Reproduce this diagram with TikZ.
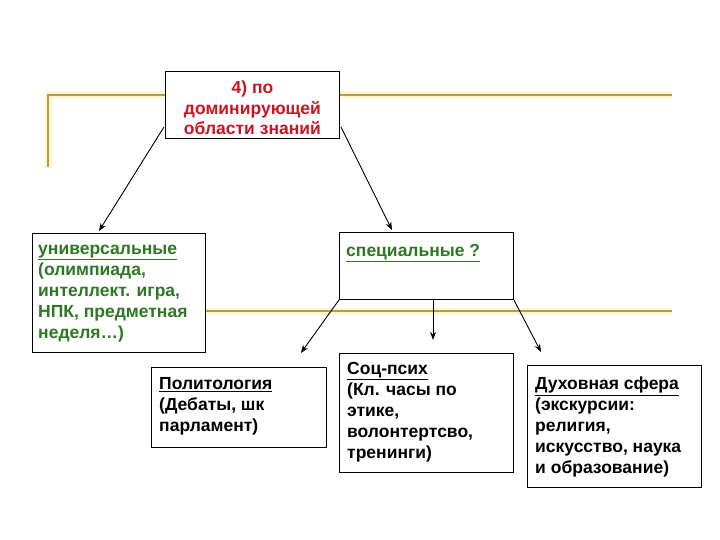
\documentclass[tikz,border=0pt]{standalone}
\usepackage{fontspec}
\setmainfont{Liberation Sans}
\usetikzlibrary{arrows.meta,calc}
\definecolor{gold}{RGB}{178,156,78}
\definecolor{glow}{RGB}{255,246,205}
\definecolor{redtxt}{RGB}{205,20,35}
\definecolor{greentxt}{RGB}{45,120,35}
\tikzset{
  box/.style={draw=black, line width=0.9pt, fill=white, rectangle, anchor=north west, inner sep=0pt},
  txt/.style={anchor=north west, align=left, inner sep=0pt, font=\fontsize{17.5}{21}\selectfont\bfseries},
  glowline/.style={glow, line width=7pt},
  goldline/.style={gold, line width=2.2pt},
  arr/.style={-{Stealth[length=8pt,width=6pt]}, line width=0.9pt, black}
}
\begin{document}
\begin{tikzpicture}[x=1pt,y=-1pt]
\useasboundingbox (0,0) rectangle (720,540);
% gold lines
\draw[glowline] (48,167) -- (48,95) -- (672,95);
\draw[glowline] (48,311) -- (672,311);
\draw[goldline] (48,167) -- (48,95) -- (672,95);
\draw[goldline] (48,311) -- (672,311);
% boxes
\node (top) [box, minimum width=174pt, minimum height=67pt] at (165,71) {};
\node [anchor=north, align=center, inner sep=0pt, font=\fontsize{17.5}{20.5}\selectfont\bfseries, text=redtxt] at ($(top.north)+(0,10)$) {4) по\\доминирующей\\области знаний};
\node (uni) [box, minimum width=173pt, minimum height=119pt] at (32,233) {};
\node [txt, text=greentxt] at ($(uni.north west)+(6,12)$) {\underline{универсальные}\\(олимпиада,\\интеллект. игра,\\НПК, предметная\\неделя…)};
\node (spec) [box, minimum width=174pt, minimum height=67pt] at (339,232) {};
\node [txt, text=greentxt] at ($(spec.north west)+(7,12)$) {\underline{специальные ?}};
\node (pol) [box, minimum width=175pt, minimum height=80pt] at (151,367) {};
\node [txt] at ($(pol.north west)+(8,10)$) {\underline{Политология}\\(Дебаты, шк\\парламент)};
\node (soc) [box, minimum width=174pt, minimum height=119pt] at (339,353) {};
\node [txt] at ($(soc.north west)+(8,9)$) {\underline{Соц-псих}\\(Кл. часы по\\этике,\\волонтертсво,\\тренинги)};
\node (duh) [box, minimum width=174pt, minimum height=122pt] at (527,365) {};
\node [txt] at ($(duh.north west)+(8,12)$) {\underline{Духовная сфера}\\(экскурсии:\\религия,\\искусство, наука\\и образование)};
% arrows
\draw[arr] ($(top.south west)+(-1,-12)$) -- ($(uni.north west)+(67,-2)$);
\draw[arr] ($(top.south east)+(1,-12)$) -- ($(spec.north west)+(53,-2)$);
\draw[arr] (spec.south west) -- ($(pol.north east)+(-26,-14)$);
\draw[arr] ($(spec.south west)+(94,0)$) -- ($(spec.south west)+(94,40)$);
\draw[arr] (spec.south east) -- ($(duh.north west)+(14,-13)$);
\end{tikzpicture}
\end{document}
